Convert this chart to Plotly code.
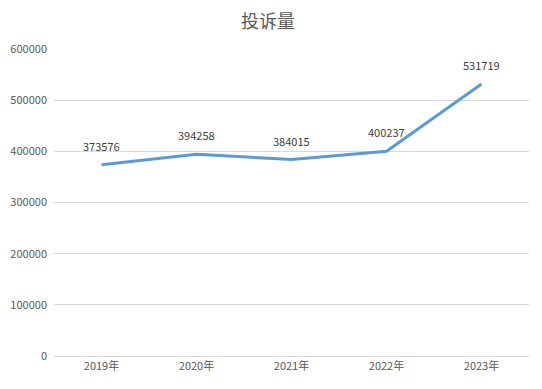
import plotly.graph_objects as go

years = ["2019年", "2020年", "2021年", "2022年", "2023年"]
complaints = [373576, 394258, 384015, 400237, 531719]
y_ticks = [0, 100000, 200000, 300000, 400000, 500000, 600000]

font_fam = "Noto Sans CJK SC, Liberation Sans, sans-serif"

fig = go.Figure()
fig.add_trace(go.Scatter(
    x=years, y=complaints, mode="lines",
    line=dict(color="#5B9BD5", width=3),
    hoverinfo="x+y",
))
for x, y in zip(years, complaints):
    fig.add_annotation(x=x, y=y, text=str(y), showarrow=False,
                       yshift=19, font=dict(size=11, color="#404040", family=font_fam))

fig.update_layout(
    width=542, height=389,
    margin=dict(l=46, r=21, t=41, b=41, autoexpand=False),
    paper_bgcolor="white", plot_bgcolor="white",
    title=dict(text="投诉量", x=260 / 542, xanchor="center",
               y=1 - 14 / 389, yanchor="middle",
               font=dict(size=18, color="#595959", family=font_fam)),
    showlegend=False,
    font=dict(family=font_fam, size=11, color="#595959"),
)
fig.update_xaxes(type="category", range=[-0.5, 4.5], showgrid=False,
                 showline=True, linecolor="#D9D9D9", linewidth=1, automargin=False,
                 ticks="", tickfont=dict(size=11, color="#595959"))
fig.update_yaxes(range=[0, 600000], tickvals=y_ticks, ticktext=[str(v) for v in y_ticks],
                 showgrid=True, gridcolor="#D9D9D9", gridwidth=1, automargin=False,
                 zeroline=False, showline=False, ticks="", ticklabelstandoff=6,
                 tickfont=dict(size=11, color="#595959"))

fig.write_html("out.html")
